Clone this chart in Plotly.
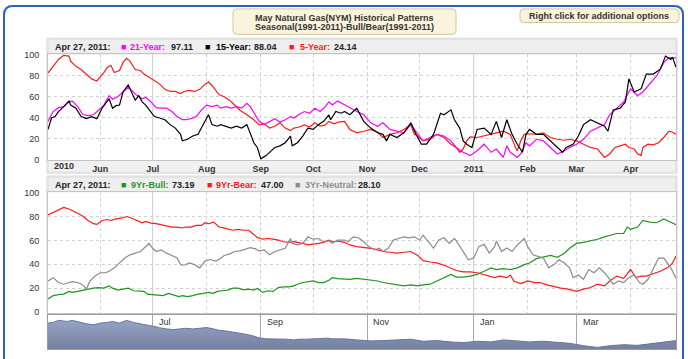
import datetime as dt
import plotly.graph_objects as go

# ---------------- data ----------------
START = dt.date(2010, 5, 1)
X_RANGE = ["2010-05-02", "2011-04-27"]

MONTH_TICKS = ["2010-06-01", "2010-07-01", "2010-08-01", "2010-09-01", "2010-10-01",
               "2010-11-01", "2010-12-01", "2011-01-01", "2011-02-01", "2011-03-01",
               "2011-04-01"]
MONTH_LABELS = ["Jun", "Jul", "Aug", "Sep", "Oct", "Nov", "Dec", "2011", "Feb", "Mar", "Apr"]
FIRST_LABEL = "2010"
SOLID_GRID = ["2010-07-01", "2011-01-01"]
NAV_TICKS = ["2010-05-01", "2010-07-01", "2010-09-01", "2010-11-01", "2011-01-01", "2011-03-01"]
NAV_LABELS = ["May", "Jul", "Sep", "Nov", "Jan", "Mar"]
Y_TICKS = [0, 20, 40, 60, 80, 100]

TITLE_LINES = ["May Natural Gas(NYM) Historical Patterns",
               "Seasonal(1991-2011)-Bull/Bear(1991-2011)"]
OPTIONS_TEXT = "Right click for additional options"
LAST_DATE = "Apr 27, 2011:"

TOP_NAMES = ["21-Year:", "15-Year:", "5-Year:"]
TOP_LAST = ["97.11", "88.04", "24.14"]
TOP_COLORS = ["#ff00ff", "#000000", "#ff1a1a"]
BOT_NAMES = ["9Yr-Bull:", "9Yr-Bear:", "3Yr-Neutral:"]
BOT_LAST = ["73.19", "47.00", "28.10"]
BOT_COLORS = ["#1e961e", "#ff1a1a", "#8c8c8c"]

# (days since 2010-05-01, value)
FIVE_YEAR = [(1,82.6),(4,89),(7,95.6),(10,99.5),(13,98.8),(14,94),(17,89),(20,86),(23,81.6),(26,77),
 (29,75),(31,78.5),(33,83),(35,88),(37,90),(39,83),(42,85),(44,92.5),(46,96.6),(48,94),(51,86),(54,85),
 (56,81.6),(59,78.5),(62,75),(65,72),(68,67),(71,65),(74,65),(77,63),(79,65),(82,66),(85,65),(88,67),
 (91,72),(93,74),(95,70.7),(97,66),(99,62),(102,60),(105,56.7),(108,52),(111,47),(115,42.7),(119,38),
 (122,33),(125,34),(128,30),(131,31.8),(134,35),(137,30),(140,27.7),(142,30),(145,31),(148,33),(151,31),
 (154,35),(157,31.8),(160,33),(162,36.4),(165,34),(168,36),(171,36.4),(174,28.7),(178,25.5),(182,27),
 (186,28.7),(190,26),(193,21),(197,24),(201,25.5),(205,28.7),(209,33.3),(211,24),(213,22.4),(216,17.8),
 (220,19.3),(224,24),(228,21),(232,14.6),(235,11.5),(237,6.9),(239,10),(241,17.8),(243,21.5),(247,21),
 (251,22.4),(255,24),(258,25.5),(262,27),(266,24),(269,11.5),(270,8.4),(272,17.8),(274,24),(277,24.6),
 (281,24),(285,25.5),(289,21),(293,19.3),(297,18.4),(300,19.3),(304,17.8),(308,14.6),(312,11.5),(316,10),
 (319,3.7),(320,2),(323,5.3),(326,11.5),(329,13),(332,14.6),(334,11.5),(337,10),(339,5.3),(341,3.7),
 (342,11.5),(345,14.6),(348,14),(351,16),(354,21),(357,27),(359,26),(361,24.14)]

TWENTYONE_YEAR = [(1,36.4),(4,45.8),(7,49.5),(10,50.5),(13,55),(15,55.8),(18,50.5),(21,43),(24,42),
 (27,42.7),(30,47),(33,52),(35,58),(36,61),(38,57.6),(41,60),(44,64.5),(47,69),(49,66),(52,61),(55,58),
 (57,59.5),(60,55),(63,49.5),(66,49),(69,49),(72,45.8),(75,41),(78,38),(80,38),(83,39),(86,41),(89,47.4),
 (92,52),(95,50.5),(98,52),(100,49),(103,50.5),(106,49),(109,50.5),(112,49),(115,53.6),(117,50.5),
 (120,42.7),(122,36.4),(125,33.3),(128,36.4),(131,39),(134,35.8),(137,38),(140,41),(142,39.6),(145,43.3),
 (148,45.8),(151,44.2),(154,49),(157,45.8),(160,50.5),(162,55),(164,52),(167,55.8),(171,52),(174,49),
 (178,45.8),(182,42.7),(186,35),(190,31.8),(193,35),(197,28.7),(201,27),(205,25.5),(209,33.3),(213,24),
 (216,17.8),(220,21),(224,24),(228,22.4),(232,17.8),(235,11.5),(239,6.9),(243,3.7),(247,8.4),(251,14.6),
 (255,6.9),(258,10),(262,2),(264,13),(266,6.9),(270,2),(272,5.3),(275,16),(277,13),(281,19.3),(285,17.8),
 (289,11.5),(293,5.3),(297,8.4),(300,11.5),(304,14.6),(308,19.3),(312,27),(316,30),(320,33.3),(323,42.7),
 (327,49),(331,55),(335,67.6),(339,61),(342,64.5),(346,72.3),(350,80),(354,92.5),(357,97.2),(359,97),
 (361,97.11)]

FIFTEEN_YEAR = [(1,28.7),(3,39.6),(5,41),(7,45.8),(10,50.5),(13,55.8),(14,52),(17,49),(20,41),(23,39),
 (26,41),(29,39),(32,49),(35,56.7),(36,58),(38,49),(40,51.4),(42,52),(44,64.5),(47,71.3),(49,64.5),
 (51,56.7),(53,61),(55,55),(57,52),(60,45.8),(62,41),(65,39.6),(68,38),(71,33.3),(74,30),(77,24),(78,17.8),
 (81,19.3),(84,22.4),(87,24),(90,33.3),(93,42.7),(95,33.3),(98,31.8),(100,33.3),(103,31.8),(106,30),
 (109,31.8),(112,30),(115,33.3),(117,24),(119,16),(121,11.5),(123,0.6),(126,3.7),(128,6.9),(131,11.5),
 (134,13),(137,16),(140,22.4),(141,13),(144,16),(147,22.4),(150,30),(153,28.7),(156,33.3),(159,36.4),
 (162,42.7),(163,38),(166,45.8),(169,44.2),(171,45.8),(174,42.7),(178,49),(182,36.4),(186,30),(190,25.5),
 (193,24),(195,17.8),(197,24),(201,21),(205,25.5),(209,35),(212,24),(215,14.6),(218,14.6),(222,24),
 (226,44.2),(228,42.7),(232,47.4),(234,38),(237,30),(239,17.8),(241,14.6),(244,11.5),(247,28.7),(251,30),
 (255,24),(258,36.4),(261,21),(264,38),(267,24),(270,14.6),(273,6.9),(275,24),(277,28.7),(281,24),(285,24),
 (289,17.8),(293,11.5),(296,6.9),(298,11.5),(302,14.6),(305,22.4),(308,33.3),(312,38),(316,35),(320,31.8),
 (322,27),(325,47.4),(329,49),(332,55),(334,77),(337,64.5),(341,67.6),(344,81.6),(348,81.6),(352,86.3),
 (355,98.8),(358,95.6),(359,97.8),(361,88.04)]

BULL_9YR = [(1,11),(4,13.7),(7,14.5),(10,15),(13,17.3),(15,16.4),(18,17.3),(21,18.4),(24,19.2),(27,20),
 (30,20.5),(33,20),(36,21.9),(38,20),(41,18.4),(44,19.2),(47,20),(50,17.8),(53,17.3),(56,17.3),(58,15),
 (61,14.5),(64,13.7),(67,13.7),(70,15.6),(73,14.5),(76,12.9),(78,13.7),(81,12.9),(84,13.7),(87,15),
 (90,15.6),(93,16.4),(96,15.6),(98,17.3),(101,17.8),(104,18.4),(107,20),(110,20),(113,18.6),(116,19.2),
 (119,18.4),(121,19.7),(124,16.4),(127,17.8),(130,17.3),(133,20.5),(136,21.1),(139,21.1),(142,21.9),
 (144,23.3),(147,24.7),(150,25.5),(153,26),(156,24.7),(159,24.7),(162,26.6),(164,28.8),(167,27.9),
 (171,27.4),(174,27.4),(178,28.2),(182,27.4),(186,26.6),(190,26),(193,24.7),(197,23.8),(201,22.7),
 (205,21.9),(209,22.7),(213,21.9),(216,22.7),(220,23.3),(224,26),(228,28.8),(232,31.5),(235,29.3),
 (239,29.3),(243,30.1),(247,31.5),(251,34.2),(255,37),(258,35.6),(262,36.4),(266,35.6),(270,37),
 (274,39.7),(277,41.1),(281,44.7),(285,45.8),(289,47.4),(293,45.8),(297,49.3),(300,53.4),(304,57.5),
 (308,58.4),(312,59.5),(316,61),(320,63),(323,64.4),(327,65.8),(331,65.8),(333,71.2),(335,69.3),
 (339,71.2),(342,76.7),(346,75.3),(350,74.8),(354,78),(357,75.9),(361,73.19)]

BEAR_9YR = [(1,81.4),(4,83.6),(7,85.8),(10,87.7),(13,86.3),(15,85),(18,82.7),(21,80.3),(24,76.7),(27,74),
 (29,73.4),(32,76.7),(35,77.5),(37,76.7),(40,78),(43,78.6),(46,80),(49,78.6),(52,76.7),(55,74.8),(57,75.9),
 (60,74.5),(63,74),(66,73.2),(69,71.8),(72,71.2),(75,71.2),(78,70.4),(80,71.2),(83,71.2),(86,72.6),
 (89,72.6),(91,74.8),(93,74),(96,75.3),(99,71.2),(101,70.7),(104,69.9),(107,68.5),(110,69.3),(113,68.5),
 (116,68.5),(119,65),(121,62.5),(124,61),(127,61.6),(130,61),(133,60.3),(136,58.9),(139,58.4),(142,58.9),
 (144,58.4),(147,57.5),(150,56.2),(153,56.7),(156,57.5),(159,58.4),(162,60.3),(164,58.9),(167,59.5),
 (171,58.4),(174,56.2),(178,54.8),(182,54.2),(186,53.4),(190,52),(193,50.7),(197,50.1),(201,49.3),
 (205,50.1),(209,50.7),(213,47.4),(216,43),(220,41.9),(224,41.1),(228,39.2),(232,37),(235,34.8),
 (239,33.7),(243,33.7),(247,32.9),(250,31.5),(253,30.1),(257,28.8),(260,30.1),(264,28.8),(266,31),
 (268,26),(272,23.8),(276,26),(280,24.7),(283,24.7),(287,22.7),(291,21.1),(295,20),(299,19.2),(303,17.8),
 (304,17.3),(308,19.2),(312,20.5),(316,23.3),(320,21.9),(323,26),(327,30.1),(331,28.2),(335,35.6),
 (338,28.8),(341,30.1),(344,30.1),(348,32),(352,34.2),(356,37),(359,41),(361,47)]

NEUTRAL_3YR = [(1,26),(4,28.8),(7,24.7),(10,23.3),(13,24.7),(15,25.5),(18,24.7),(21,22.7),(23,19.2),
 (25,26),(28,30.1),(31,32.9),(34,32.9),(36,34.2),(39,37),(42,41.1),(45,45.2),(48,47.9),(51,49.3),(54,50.7),
 (56,53.4),(59,57.5),(61,53.4),(63,50.7),(66,52),(69,49.3),(72,47.4),(75,45.2),(77,39.7),(79,39.2),
 (82,41.1),(85,39.7),(88,37),(91,42.7),(94,44),(97,42.7),(99,44),(102,47.4),(105,48.5),(108,50.7),
 (111,51.2),(114,52.9),(117,54),(120,52.9),(122,51.2),(125,52),(128,47.9),(131,50.7),(134,52),(137,53.4),
 (140,61.6),(141,57.5),(144,56.2),(147,57.5),(150,63),(153,61),(156,61.6),(159,58.9),(162,59.5),
 (164,57.5),(167,60.3),(171,60.3),(173,58.9),(176,63),(179,62.2),(182,58.9),(185,54.8),(188,52),
 (191,53.4),(193,50.7),(196,53.4),(199,60.3),(202,61.6),(205,63),(208,62.2),(211,63),(214,60.3),
 (216,64.4),(219,58.9),(222,53.4),(225,60.3),(228,62.2),(231,57.5),(234,61.6),(236,57.5),(239,50.7),
 (242,43.8),(245,45.2),(248,54.8),(251,56.7),(254,49.3),(257,54.8),(258,59.5),(261,50.7),(264,53.7),
 (267,50.7),(270,56.2),(274,61.6),(276,54.8),(279,47.9),(282,46.6),(285,45.2),(288,37),(291,39.7),
 (294,43.8),(297,41.1),(300,37),(302,28.8),(305,31),(308,27.4),(311,35.6),(314,32.9),(317,37),(320,32.9),
 (323,27.4),(325,23.3),(328,26),(331,24.7),(334,28.8),(337,31.5),(340,24.7),(342,23.3),(345,27.4),
 (348,37),(351,45.2),(354,45.2),(356,41.1),(358,37),(361,28.1)]

NAVIGATOR = [(1,76),(4,78),(7,84),(12,81),(15,84),(19,78),(23,74),(27,71),(31,76),(35,78),(38,81),
 (42,76),(46,84),(50,78),(54,74),(57,69),(61,67),(65,63),(69,59),(73,57),(77,59),(80,61),(84,59),(88,61),
 (92,63),(96,59),(99,55),(103,53),(107,50),(111,48),(115,43),(119,38),(122,33),(126,30),(130,30),
 (134,29),(138,29),(142,27),(145,29),(149,29),(153,30),(157,30),(161,32),(164,30),(171,30),(178,27),
 (186,24),(193,25),(201,27),(209,29),(216,23),(224,25),(232,21),(239,19),(247,23),(255,21),(262,27),
 (270,24),(277,21),(285,23),(293,19),(300,17),(308,10),(316,5),(323,10),(331,13),(339,11),(346,15),
 (354,19),(361,25)]


def unpack(pairs):
    return ([START + dt.timedelta(days=d) for d, _ in pairs], [v for _, v in pairs])


# ---------------- helpers (pixel -> paper) ----------------
W, H = 688, 359
FONT = "Liberation Sans, Arial, sans-serif"


def X(p):
    return p / W


def Y(p):
    return 1 - p / H


def rrect(x0, y0, x1, y1, r):
    return (f"M{X(x0+r)},{Y(y0)} L{X(x1-r)},{Y(y0)} Q{X(x1)},{Y(y0)} {X(x1)},{Y(y0+r)} "
            f"L{X(x1)},{Y(y1-r)} Q{X(x1)},{Y(y1)} {X(x1-r)},{Y(y1)} L{X(x0+r)},{Y(y1)} "
            f"Q{X(x0)},{Y(y1)} {X(x0)},{Y(y1-r)} L{X(x0)},{Y(y0+r)} Q{X(x0)},{Y(y0)} {X(x0+r)},{Y(y0)} Z")


fig = go.Figure()

# top panel
for pairs, col in [(FIVE_YEAR, TOP_COLORS[2]), (TWENTYONE_YEAR, TOP_COLORS[0]), (FIFTEEN_YEAR, TOP_COLORS[1])]:
    d, v = unpack(pairs)
    fig.add_trace(go.Scatter(x=d, y=v, mode="lines", line=dict(color=col, width=1.2),
                             xaxis="x", yaxis="y", hoverinfo="skip"))
# bottom panel
for pairs, col in [(BEAR_9YR, BOT_COLORS[1]), (BULL_9YR, BOT_COLORS[0]), (NEUTRAL_3YR, BOT_COLORS[2])]:
    d, v = unpack(pairs)
    fig.add_trace(go.Scatter(x=d, y=v, mode="lines", line=dict(color=col, width=1.2),
                             xaxis="x2", yaxis="y2", hoverinfo="skip"))
# navigator
d, v = unpack(NAVIGATOR)
fig.add_trace(go.Scatter(x=d, y=v, mode="lines", fill="tozeroy",
                         line=dict(color="#66739a", width=1),
                         fillgradient=dict(type="vertical", start=0, stop=85,
                                           colorscale=[[0, "#737f9e"], [1, "#97a3c6"]]),
                         xaxis="x3", yaxis="y3", hoverinfo="skip"))

GRID = "#d2d2d2"
BORDER = "#c4c4c4"
xcommon = dict(type="date", range=X_RANGE, domain=[X(48), X(676)], tickvals=MONTH_TICKS,
               showgrid=True, gridcolor=GRID, griddash="3px,3px", gridwidth=1,
               showline=True, linecolor=BORDER, mirror=True, ticks="", zeroline=False)
ycommon = dict(tickvals=Y_TICKS, showgrid=True, gridcolor=GRID, griddash="3px,3px",
               showline=True, linecolor=BORDER, mirror=True, ticks="", zeroline=False,
               ticklabelstandoff=6, tickfont=dict(family=FONT, size=9, color="#333"))

layout = dict(
    width=W, height=H, margin=dict(l=0, r=0, t=0, b=0),
    paper_bgcolor="white", plot_bgcolor="white", showlegend=False,
    xaxis=dict(**xcommon, anchor="y", ticktext=[f"<b>{t}</b>" for t in MONTH_LABELS],
               tickfont=dict(family=FONT, size=9, color="#333"), tickangle=0),
    yaxis=dict(**ycommon, domain=[Y(160), Y(51)], range=[-0.9, 100.9], anchor="x"),
    xaxis2=dict(**xcommon, anchor="y2", showticklabels=False),
    yaxis2=dict(**ycommon, domain=[Y(316), Y(192)], range=[-0.8, 100.8], anchor="x2"),
    xaxis3=dict(type="date", range=X_RANGE, domain=[X(48), X(676)], anchor="y3",
                tickvals=NAV_TICKS, showticklabels=False, showgrid=True, gridcolor="#a8a8a8",
                showline=True, linecolor="#9a9a9a", mirror=True, ticks="", zeroline=False),
    yaxis3=dict(domain=[Y(353), Y(318)], range=[0, 100], anchor="x3", showgrid=False,
                showticklabels=False, showline=True, linecolor="#9a9a9a", mirror=True,
                ticks="", zeroline=False),
)
fig.update_layout(**layout)

shapes = []
# outer blue frame
shapes.append(dict(type="path", xref="paper", yref="paper", path=rrect(4, 2, 683, 400, 9),
                   line=dict(color="#2a63c4", width=2), fillcolor="white", layer="below"))
# title box
shapes.append(dict(type="path", xref="paper", yref="paper", path=rrect(233, 5, 456, 31, 4),
                   line=dict(color="#d6c59c", width=1), fillcolor="#fbf4dc", layer="below"))
# options box
shapes.append(dict(type="path", xref="paper", yref="paper", path=rrect(520, 5, 679, 19, 4),
                   line=dict(color="#d6c59c", width=1), fillcolor="#fbf4dc", layer="below"))
# panel frames, header bars, label band
for (x0, y0, x1, y1, fill, lc) in [
        (47, 35, 677, 173, "rgba(0,0,0,0)", "#d6d6d6"),
        (48, 36, 676, 51, "#eeeeee", "#dcdcdc"),
        (48, 160, 676, 172, "#f1f1f1", "#dcdcdc"),
        (47, 176, 677, 317, "rgba(0,0,0,0)", "#d6d6d6"),
        (48, 177, 676, 192, "#eeeeee", "#dcdcdc")]:
    shapes.append(dict(type="rect", xref="paper", yref="paper", x0=X(x0), x1=X(x1), y0=Y(y1), y1=Y(y0),
                       fillcolor=fill, line=dict(color=lc, width=1), layer="below"))
# solid year / half-year grid lines
for ax_x, ax_y in [("x", "y domain"), ("x2", "y2 domain")]:
    for dte in SOLID_GRID:
        shapes.append(dict(type="line", xref=ax_x, yref=ax_y, x0=dte, x1=dte, y0=0, y1=1,
                           line=dict(color="#cfcfcf", width=1), layer="below"))
fig.update_layout(shapes=shapes)

ann = []


def txt(text, x, y, color="#222", size=9, bold=True, anchor="left", **kw):
    t = f"<b>{text}</b>" if bold else text
    ann.append(dict(text=t, x=X(x), y=Y(y), xref="paper", yref="paper", xanchor=anchor,
                    yanchor="middle", showarrow=False, borderpad=0,
                    font=dict(family=FONT, size=size, color=color), **kw))


txt(TITLE_LINES[0], 344, 14, color="#333", anchor="center")
txt(TITLE_LINES[1], 344, 24, color="#333", anchor="center")
txt(OPTIONS_TEXT, 599, 12, color="#333", anchor="center")

# top header legend
txt(LAST_DATE, 54, 44)
for (sq, nx, vx), name, val, col in zip([(123.5, 129, 170), (207.5, 215, 253), (291.5, 299, 333)],
                                        TOP_NAMES, TOP_LAST, TOP_COLORS):
    txt("■", sq, 44, color=col, anchor="center", bold=False)
    txt(name, nx, 44, color=col)
    txt(val, vx, 44)
# bottom header legend
txt(LAST_DATE, 54, 185)
for (sq, nx, vx), name, val, col in zip([(123.5, 130, 171), (209.5, 215, 260), (297.5, 304, 357)],
                                        BOT_NAMES, BOT_LAST, BOT_COLORS):
    txt("■", sq, 185, color=col, anchor="center", bold=False)
    txt(name, nx, 185, color=col)
    txt(val, vx, 185)

# first tick label of the top axis
ann.append(dict(text=f"<b>{FIRST_LABEL}</b>", x=0, xref="x domain", y=Y(166), yref="paper",
                xanchor="left", yanchor="middle", xshift=4, showarrow=False,
                font=dict(family=FONT, size=9, color="#333")))
# navigator labels
for dte, lab in zip(NAV_TICKS, NAV_LABELS):
    ann.append(dict(text=lab, x=dte, xref="x3", y=Y(325.5), yref="paper", xanchor="left",
                    yanchor="middle", xshift=5, showarrow=False, borderpad=0,
                    bgcolor="rgba(255,255,255,0.55)",
                    font=dict(family=FONT, size=9, color="#333")))
fig.update_layout(annotations=ann)

fig.write_html("out.html", config={"displayModeBar": False},
               post_script="document.body.style.margin='0';document.body.style.overflow='hidden';")
